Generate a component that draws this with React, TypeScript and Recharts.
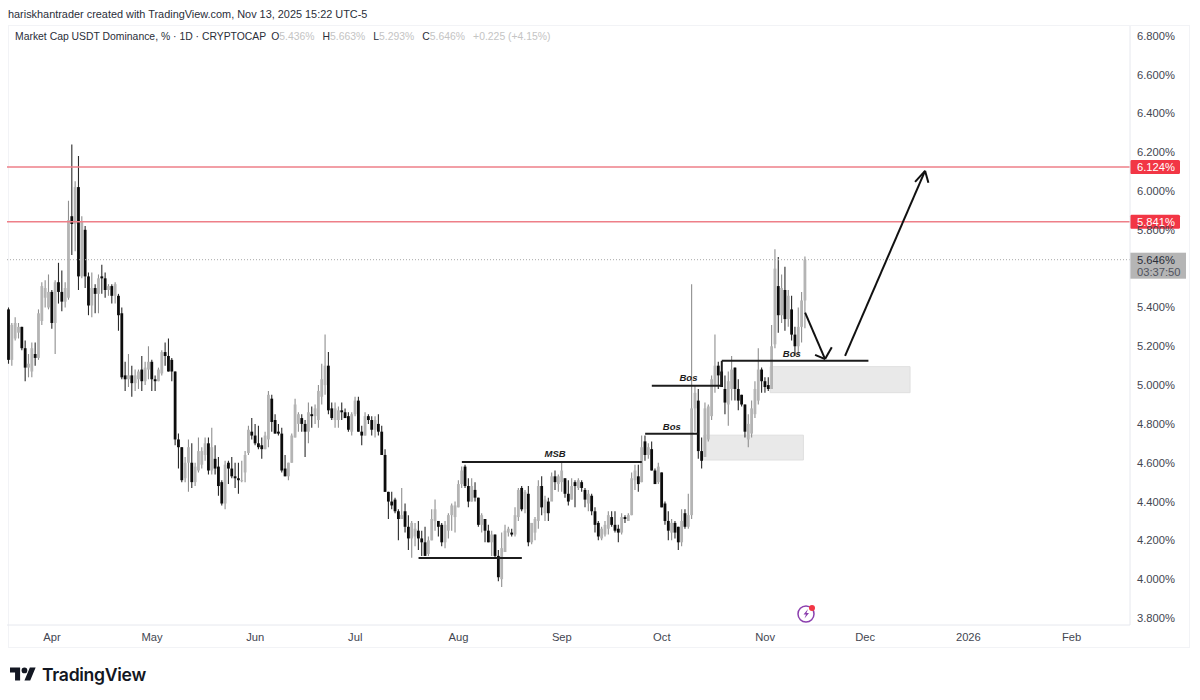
import React from 'react';
import {
  ComposedChart,
  Bar,
  XAxis,
  YAxis,
  ReferenceLine,
  ReferenceArea,
  ReferenceDot,
} from 'recharts';

// Daily candles (Mar 19 - Nov 13 2025)
const opens = [
  5.39, 5.13, 5.24, 5.27, 5.30, 5.19, 5.09, 5.07, 5.16, 5.14,
  5.33, 5.45, 5.40, 5.48, 5.32, 5.53, 5.48, 5.43, 5.45, 5.87,
  5.83, 6.02, 5.56, 5.80, 5.56, 5.41, 5.50, 5.47, 5.56, 5.55,
  5.49, 5.51, 5.46, 5.46, 5.37, 5.05, 5.03, 5.05, 5.01, 5.03,
  5.08, 5.02, 5.08, 5.12, 5.03, 5.02, 5.06, 5.17, 5.15, 5.13,
  5.07, 4.72, 4.68, 4.52, 4.60, 4.60, 4.50, 4.56, 4.59, 4.64,
  4.70, 4.56, 4.62, 4.58, 4.50, 4.39, 4.60, 4.57, 4.53, 4.52,
  4.51, 4.55, 4.65, 4.76, 4.74, 4.70, 4.69, 4.67, 4.72, 4.93,
  4.82, 4.76, 4.75, 4.57, 4.53, 4.60, 4.73, 4.80, 4.83, 4.80,
  4.76, 4.85, 4.84, 4.82, 4.94, 5.00, 5.10, 4.88, 4.82, 4.82,
  4.87, 4.86, 4.84, 4.76, 4.85, 4.92, 4.76, 4.74, 4.84, 4.82,
  4.77, 4.80, 4.76, 4.64, 4.45, 4.40, 4.41, 4.35, 4.31, 4.35,
  4.27, 4.21, 4.22, 4.25, 4.21, 4.19, 4.13, 4.20, 4.30, 4.30,
  4.28, 4.19, 4.25, 4.33, 4.32, 4.37, 4.49, 4.58, 4.48, 4.40,
  4.46, 4.42, 4.28, 4.31, 4.25, 4.19, 4.23, 4.12, 4.00, 4.14,
  4.24, 4.24, 4.23, 4.32, 4.47, 4.36, 4.44, 4.19, 4.24, 4.30,
  4.48, 4.34, 4.40, 4.40, 4.53, 4.49, 4.50, 4.52, 4.44, 4.41,
  4.50, 4.47, 4.50, 4.46, 4.39, 4.43, 4.35, 4.29, 4.21, 4.23,
  4.26, 4.32, 4.28, 4.26, 4.24, 4.32, 4.30, 4.33, 4.51, 4.53,
  4.50, 4.71, 4.64, 4.67, 4.56, 4.50, 4.55, 4.39, 4.30, 4.24,
  4.29, 4.27, 4.19, 4.34, 4.27, 4.33, 4.88, 4.92, 4.66, 4.63,
  4.72, 4.84, 5.00, 5.10, 5.07, 4.98, 4.90, 4.98, 5.09, 4.98,
  4.95, 4.90, 4.72, 4.75, 4.85, 4.92, 5.08, 5.02, 5.00, 4.98,
  5.21, 5.51, 5.36, 5.49, 5.34, 5.39, 5.26, 5.20, 5.30, 5.436,
];
const highs = [
  5.40, 5.32, 5.35, 5.32, 5.30, 5.23, 5.16, 5.22, 5.22, 5.39,
  5.53, 5.54, 5.57, 5.49, 5.54, 5.63, 5.59, 5.53, 5.95, 6.24,
  6.05, 6.18, 5.87, 5.82, 5.58, 5.58, 5.52, 5.57, 5.62, 5.58,
  5.52, 5.52, 5.53, 5.47, 5.40, 5.12, 5.16, 5.10, 5.08, 5.08,
  5.15, 5.12, 5.20, 5.13, 5.05, 5.09, 5.18, 5.22, 5.24, 5.14,
  5.07, 4.75, 4.68, 4.63, 4.72, 4.70, 4.60, 4.73, 4.68, 4.73,
  4.73, 4.78, 4.69, 4.63, 4.51, 4.61, 4.61, 4.63, 4.60, 4.60,
  4.61, 4.66, 4.79, 4.83, 4.80, 4.79, 4.73, 4.76, 4.97, 4.95,
  4.85, 4.80, 4.78, 4.64, 4.60, 4.75, 4.93, 4.86, 4.85, 4.82,
  4.91, 4.89, 4.90, 5.00, 5.11, 5.26, 5.17, 4.91, 4.91, 4.89,
  4.91, 4.88, 4.86, 4.86, 4.94, 4.94, 4.79, 4.86, 4.85, 4.84,
  4.84, 4.85, 4.79, 4.67, 4.45, 4.45, 4.42, 4.36, 4.47, 4.39,
  4.33, 4.30, 4.29, 4.30, 4.25, 4.27, 4.22, 4.36, 4.41, 4.30,
  4.29, 4.30, 4.34, 4.39, 4.40, 4.51, 4.58, 4.59, 4.52, 4.52,
  4.50, 4.42, 4.34, 4.31, 4.28, 4.25, 4.23, 4.15, 4.24, 4.28,
  4.27, 4.26, 4.37, 4.47, 4.48, 4.46, 4.48, 4.29, 4.32, 4.51,
  4.53, 4.43, 4.42, 4.55, 4.56, 4.54, 4.60, 4.52, 4.51, 4.52,
  4.51, 4.52, 4.51, 4.47, 4.46, 4.44, 4.37, 4.30, 4.27, 4.30,
  4.35, 4.35, 4.35, 4.28, 4.34, 4.33, 4.34, 4.55, 4.59, 4.59,
  4.74, 4.74, 4.70, 4.71, 4.57, 4.60, 4.55, 4.40, 4.35, 4.31,
  4.30, 4.27, 4.36, 4.36, 4.44, 5.52, 5.00, 4.98, 4.73, 4.91,
  4.90, 5.05, 5.26, 5.12, 5.07, 5.05, 5.07, 5.15, 5.09, 5.03,
  4.95, 4.90, 4.85, 4.92, 5.02, 5.19, 5.09, 5.04, 5.04, 5.31,
  5.70, 5.66, 5.57, 5.61, 5.49, 5.46, 5.30, 5.40, 5.48, 5.663,
];
const lows = [
  5.11, 5.10, 5.23, 5.24, 5.18, 5.02, 5.04, 5.04, 5.10, 5.13,
  5.31, 5.40, 5.39, 5.29, 5.16, 5.42, 5.38, 5.40, 5.44, 5.67,
  5.69, 5.49, 5.55, 5.50, 5.36, 5.35, 5.37, 5.37, 5.47, 5.45,
  5.46, 5.42, 5.42, 5.28, 5.03, 4.97, 4.99, 4.94, 4.97, 4.98,
  4.97, 5.00, 5.03, 4.97, 4.97, 5.02, 5.05, 5.10, 5.07, 5.02,
  4.69, 4.57, 4.50, 4.50, 4.45, 4.47, 4.48, 4.55, 4.57, 4.61,
  4.54, 4.54, 4.54, 4.43, 4.38, 4.36, 4.49, 4.52, 4.47, 4.44,
  4.50, 4.50, 4.64, 4.72, 4.69, 4.67, 4.62, 4.67, 4.68, 4.76,
  4.75, 4.74, 4.55, 4.53, 4.51, 4.60, 4.73, 4.76, 4.76, 4.63,
  4.70, 4.78, 4.80, 4.78, 4.90, 4.95, 4.85, 4.82, 4.78, 4.78,
  4.82, 4.83, 4.76, 4.74, 4.84, 4.76, 4.69, 4.74, 4.80, 4.74,
  4.73, 4.74, 4.64, 4.45, 4.31, 4.36, 4.34, 4.20, 4.31, 4.24,
  4.15, 4.11, 4.17, 4.15, 4.12, 4.12, 4.12, 4.20, 4.25, 4.22,
  4.17, 4.16, 4.21, 4.25, 4.24, 4.37, 4.47, 4.47, 4.37, 4.40,
  4.40, 4.27, 4.24, 4.19, 4.19, 4.12, 4.11, 3.99, 3.96, 4.14,
  4.22, 4.22, 4.22, 4.30, 4.35, 4.34, 4.17, 4.18, 4.20, 4.26,
  4.33, 4.30, 4.30, 4.41, 4.46, 4.45, 4.45, 4.42, 4.38, 4.41,
  4.37, 4.46, 4.45, 4.37, 4.35, 4.33, 4.24, 4.20, 4.20, 4.22,
  4.23, 4.27, 4.24, 4.19, 4.23, 4.29, 4.30, 4.33, 4.46, 4.45,
  4.50, 4.61, 4.62, 4.56, 4.49, 4.49, 4.37, 4.28, 4.20, 4.20,
  4.21, 4.15, 4.17, 4.26, 4.26, 4.31, 4.76, 4.62, 4.57, 4.63,
  4.71, 4.82, 4.96, 4.98, 4.99, 4.85, 4.79, 4.92, 4.92, 4.87,
  4.89, 4.73, 4.68, 4.73, 4.83, 4.90, 4.96, 4.96, 4.97, 4.98,
  5.19, 5.27, 5.32, 5.28, 5.30, 5.23, 5.15, 5.16, 5.22, 5.293,
];
const closes = [
  5.13, 5.31, 5.32, 5.30, 5.19, 5.09, 5.11, 5.19, 5.14, 5.37,
  5.51, 5.50, 5.48, 5.32, 5.53, 5.48, 5.43, 5.50, 5.85, 5.83,
  6.02, 5.56, 5.84, 5.56, 5.41, 5.50, 5.47, 5.55, 5.55, 5.49,
  5.51, 5.46, 5.52, 5.36, 5.04, 5.03, 5.05, 5.01, 5.05, 5.07,
  5.02, 5.09, 5.12, 5.03, 5.02, 5.08, 5.17, 5.15, 5.07, 5.07,
  4.72, 4.68, 4.51, 4.60, 4.68, 4.50, 4.58, 4.66, 4.66, 4.70,
  4.56, 4.68, 4.57, 4.48, 4.39, 4.59, 4.57, 4.53, 4.52, 4.51,
  4.51, 4.64, 4.77, 4.74, 4.70, 4.68, 4.67, 4.74, 4.95, 4.81,
  4.75, 4.75, 4.56, 4.53, 4.60, 4.74, 4.90, 4.85, 4.80, 4.76,
  4.86, 4.84, 4.88, 4.97, 5.03, 5.10, 4.87, 4.83, 4.88, 4.87,
  4.86, 4.83, 4.77, 4.85, 4.92, 4.76, 4.74, 4.84, 4.82, 4.77,
  4.82, 4.76, 4.64, 4.45, 4.40, 4.38, 4.35, 4.31, 4.33, 4.27,
  4.21, 4.29, 4.26, 4.21, 4.19, 4.12, 4.20, 4.31, 4.36, 4.27,
  4.19, 4.28, 4.33, 4.38, 4.38, 4.49, 4.56, 4.48, 4.40, 4.48,
  4.42, 4.28, 4.33, 4.25, 4.19, 4.23, 4.12, 4.01, 4.16, 4.25,
  4.26, 4.23, 4.33, 4.46, 4.36, 4.45, 4.19, 4.29, 4.31, 4.48,
  4.37, 4.41, 4.34, 4.53, 4.50, 4.53, 4.56, 4.44, 4.40, 4.48,
  4.48, 4.51, 4.47, 4.41, 4.44, 4.35, 4.28, 4.22, 4.26, 4.28,
  4.33, 4.28, 4.25, 4.24, 4.32, 4.31, 4.33, 4.52, 4.56, 4.49,
  4.68, 4.64, 4.68, 4.56, 4.49, 4.58, 4.37, 4.30, 4.25, 4.29,
  4.24, 4.19, 4.30, 4.27, 4.33, 4.88, 4.96, 4.66, 4.61, 4.88,
  4.89, 5.03, 5.10, 5.05, 4.99, 4.91, 5.02, 5.08, 4.98, 4.92,
  4.90, 4.76, 4.80, 4.88, 4.98, 5.08, 5.02, 4.99, 4.98, 5.20,
  5.60, 5.36, 5.50, 5.34, 5.46, 5.26, 5.20, 5.30, 5.436, 5.646,
];

const rowCount = 337; // candles plus the empty days on the right

// 5.6 sits behind the last price tag in the picture, so it is left out
const priceTicks = [3.8, 4, 4.2, 4.4, 4.6, 4.8, 5, 5.2, 5.4, 5.8, 6, 6.2, 6.4, 6.6, 6.8];

// first of month -> axis label, in candle slots from Mar 19
const monthSlots = [13, 43, 74, 104, 135, 166, 196, 227, 257, 288, 319];
const monthNames = ['Apr', 'May', 'Jun', 'Jul', 'Aug', 'Sep', 'Oct', 'Nov', 'Dec', '2026', 'Feb'];

const redLevels = [6.124, 5.841];
const lastPrice = 5.646;

// hand drawn lines [slot, price, slot, price]
const structureLines = [
  [123, 4.109, 154, 4.109],
  [136, 4.604, 190, 4.604],
  [191, 4.749, 207, 4.749],
  [193, 4.996, 214, 4.996],
  [214, 4.996, 214, 5.125],
  [214, 5.125, 258, 5.125],
];
const arrowLines = [
  [239, 5.373, 245, 5.134],
  [242, 5.156, 245, 5.134],
  [247, 5.195, 245, 5.134],
  [251, 5.151, 275, 6.104],
  [272, 6.047, 275, 6.104],
  [276, 6.042, 275, 6.104],
];
const zones = [
  [209, 4.742, 238, 4.614],
  [229, 5.095, 270, 4.961],
];
const tags = [
  { text: 'MSB', slot: 164, price: 4.645 },
  { text: 'Bos', slot: 199, price: 4.786 },
  { text: 'Bos', slot: 204, price: 5.036 },
  { text: 'Bos', slot: 235, price: 5.161 },
];

const FONT = '"Liberation Sans", Arial, sans-serif';

const dayLabel = (slot: number) => {
  const d = new Date(Date.UTC(2025, 2, 19 + slot));
  return d.toISOString().slice(0, 10);
};

const chartData = Array.from({ length: rowCount }, (_, i) => ({
  day: dayLabel(i),
  open: opens[i],
  high: highs[i],
  low: lows[i],
  close: closes[i],
}));

const monthTicks = monthSlots.map(dayLabel);

const Candle = (props: any) => {
  const { x, y, width, height, payload } = props;
  if (payload.open === undefined || !height) return null;
  const { open, high, low, close } = payload;
  const perUnit = height / (high - low);
  const mid = x + width / 2;
  const up = close >= open;
  const top = y + (high - Math.max(open, close)) * perUnit;
  const bodyH = Math.max(Math.abs(close - open) * perUnit, 1);
  return (
    <g>
      <line x1={mid} x2={mid} y1={y} y2={y + height} stroke={up ? '#8f8f8f' : '#2a2a2a'} strokeWidth={1.1} />
      <rect x={mid - 1.4} y={top} width={2.8} height={bodyH} fill={up ? '#b4b4b4' : '#0c0c0c'} />
    </g>
  );
};

const PriceBadge = (props: any) => {
  const { viewBox, text } = props;
  const left = viewBox.x + viewBox.width;
  return (
    <g>
      <rect x={left} y={viewBox.y - 7} width={50} height={14} rx={1.5} fill="#f23645" />
      <text x={left + 7} y={viewBox.y + 4} fontSize={11.2} fontFamily={FONT} fill="#ffffff">
        {text}
      </text>
    </g>
  );
};

const LastBadge = (props: any) => {
  const { viewBox } = props;
  const left = viewBox.x + viewBox.width;
  return (
    <g>
      <rect x={left} y={viewBox.y - 7} width={56} height={26} fill="#b5b5b5" />
      <text x={left + 7} y={viewBox.y + 4} fontSize={11.2} fontFamily={FONT} fill="#2a2e39">
        {lastPrice.toFixed(3)}%
      </text>
      <text x={left + 7} y={viewBox.y + 16} fontSize={11.2} fontFamily={FONT} fill="#50535e">
        03:37:50
      </text>
    </g>
  );
};

const segmentOf = (l: number[]) => [
  { x: dayLabel(l[0]), y: l[1] },
  { x: dayLabel(l[2]), y: l[3] },
];

const absolute = (left: number, top: number): React.CSSProperties => ({
  position: 'absolute',
  left,
  top,
  whiteSpace: 'nowrap',
  fontFamily: FONT,
});

const Val = ({ label, value }: { label: string; value: string }) => (
  <span style={{ marginRight: 8 }}>
    <span style={{ color: '#2a2e39' }}>{label}</span>
    <span style={{ color: '#c4c4c4' }}>{value}</span>
  </span>
);

export default function App() {
  return (
    <div style={{ position: 'absolute', left: 0, top: 0, width: 1200, height: 700, background: '#fff', overflow: 'hidden' }}>
      <div style={{ ...absolute(8, 8), fontSize: 10.9, color: '#2a2e39' }}>
        hariskhantrader created with TradingView.com, Nov 13, 2025 15:22 UTC-5
      </div>
      <div style={{ position: 'absolute', left: 8, top: 25, width: 1182, height: 623, border: '1px solid #f2f3f6', boxSizing: 'border-box' }} />
      <div style={{ position: 'absolute' }}>
        <ComposedChart
          width={1200}
          height={700}
          data={chartData}
          margin={{ top: 26, right: 10, left: 7, bottom: 52 }}
        >
          <XAxis
            dataKey="day"
            ticks={monthTicks}
            interval={0}
            height={23}
            tickLine={false}
            tickMargin={2}
            stroke="#e6e8ee"
            tick={{ fill: '#434651', fontSize: 11.2, fontFamily: FONT }}
            tickFormatter={(v: string) => monthNames[monthTicks.indexOf(v)]}
          />
          <YAxis
            orientation="right"
            width={60}
            domain={[3.764, 6.85]}
            allowDataOverflow
            ticks={priceTicks}
            interval={0}
            tickLine={false}
            tickMargin={1}
            stroke="#e6e8ee"
            tick={{ fill: '#434651', fontSize: 11.2, fontFamily: FONT, textAnchor: 'start' }}
            tickFormatter={(v: number) => `${v.toFixed(3)}%`}
          />
          {zones.map((z, i) => (
            <ReferenceArea
              key={i}
              x1={dayLabel(z[0])}
              x2={dayLabel(z[2])}
              y1={z[1]}
              y2={z[3]}
              fill="#e9e9e9"
              fillOpacity={1}
              stroke="#dfdfdf"
            />
          ))}
          <Bar
            dataKey={(d: any) => (d.open === undefined ? null : [d.low, d.high])}
            barSize={3}
            shape={<Candle />}
            isAnimationActive={false}
          />
          <ReferenceLine
            y={lastPrice}
            stroke="#a8a8a8"
            strokeDasharray="1 2"
            label={<LastBadge />}
          />
          {redLevels.map((level) => (
            <ReferenceLine
              key={level}
              y={level}
              stroke="#ee7f88"
              strokeWidth={1.5}
              label={<PriceBadge text={`${level.toFixed(3)}%`} />}
            />
          ))}
          {structureLines.map((l, i) => (
            <ReferenceLine key={i} segment={segmentOf(l)} stroke="#1c1c1c" strokeWidth={2} />
          ))}
          {arrowLines.map((l, i) => (
            <ReferenceLine key={i} segment={segmentOf(l)} stroke="#111111" strokeWidth={2} />
          ))}
          {tags.map((t, i) => (
            <ReferenceDot
              key={i}
              x={dayLabel(t.slot)}
              y={t.price}
              r={0}
              stroke="none"
              label={{
                value: t.text,
                position: 'center',
                fontSize: 9.5,
                fontWeight: 700,
                fontStyle: 'italic',
                fontFamily: FONT,
                fill: '#1c1c1c',
              }}
            />
          ))}
        </ComposedChart>
      </div>
      <div style={{ ...absolute(15, 31), fontSize: 10.4, color: '#2a2e39' }}>
        <span style={{ marginRight: 5 }}>Market Cap USDT Dominance, % · 1D · CRYPTOCAP</span>
        <Val label="O" value="5.436%" />
        <Val label="H" value="5.663%" />
        <Val label="L" value="5.293%" />
        <Val label="C" value="5.646%" />
        <span style={{ color: '#c4c4c4' }}>+0.225 (+4.15%)</span>
      </div>
      <svg style={{ position: 'absolute', left: 796, top: 602 }} width={22} height={22} viewBox="0 0 22 22">
        <circle cx={10} cy={12} r={8} fill="#fff" stroke="#8b3fae" strokeWidth={1.5} />
        <path d="M12 7 L7.5 12.5 L10 12.5 L8.5 16.5 L13 11 L10.5 11 Z" fill="#8b3fae" />
        <circle cx={16} cy={6} r={3} fill="#f23645" />
      </svg>
      <svg style={{ position: 'absolute', left: 10, top: 667 }} width={26} height={14} viewBox="0 0 36 18">
        <path d="M14 18H7V7H0V0h14v18zM28 18h-8l7.5-18h8L28 18z" fill="#131722" />
        <circle cx={20} cy={4} r={4} fill="#131722" />
      </svg>
      <div style={{ ...absolute(42, 664), fontSize: 17.6, fontWeight: 600, color: '#131722', fontFamily: 'Inter, sans-serif', letterSpacing: -0.3 }}>
        TradingView
      </div>
    </div>
  );
}
